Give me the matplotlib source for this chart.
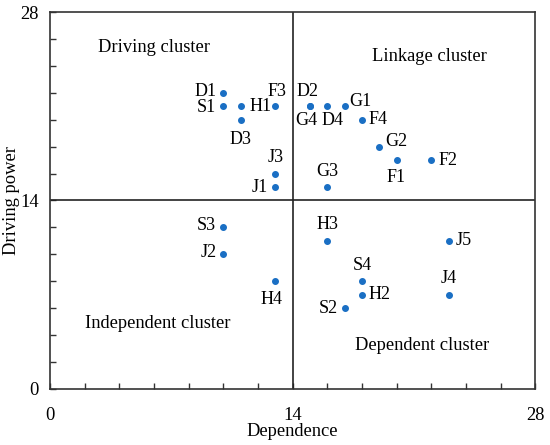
import matplotlib.pyplot as plt
from matplotlib.ticker import MultipleLocator

plt.rcParams['font.family'] = ['Liberation Serif', 'DejaVu Serif']

# factor names, dependence (x) and driving power (y)
names = ['D1', 'S1', 'H1', 'D3', 'F3', 'D2', 'G4', 'D4', 'G1', 'F4', 'G2', 'F1', 'F2',
         'J3', 'J1', 'G3', 'S3', 'J2', 'H4', 'H3', 'J5', 'S4', 'H2', 'J4', 'S2']
dependence = [10, 10, 11, 11, 13, 15, 15, 16, 17, 18, 19, 20, 22,
              13, 13, 16, 10, 10, 13, 16, 23, 18, 18, 23, 17]
driving = [22, 21, 21, 20, 21, 21, 21, 21, 21, 20, 18, 17, 17,
           16, 15, 15, 12, 10, 8, 11, 11, 8, 7, 7, 6]

# where each label sits relative to its dot (pixels)
L = (-7, 0, 'right', 'center')
R = (7, 0, 'left', 'center')
A = (0, 16, 'center', 'center')
B = (0, -17, 'center', 'center')
place = {'D1': (-7, 1, 'right', 'center'), 'S1': (-7, -1, 'right', 'center'),
         'H1': (9, 0, 'left', 'center'), 'D3': (0, -20, 'center', 'center'),
         'F3': (2, 15, 'center', 'center'), 'D2': (-2, 15, 'center', 'center'),
         'G4': (-4, -14, 'center', 'center'), 'D4': (5, -14, 'center', 'center'),
         'G1': (5, 5, 'left', 'center'), 'F4': R, 'G2': (6, 5, 'left', 'center'),
         'F1': B, 'F2': R, 'J3': A, 'J1': L, 'G3': A, 'S3': (-7, 2, 'right', 'center'),
         'J2': (-7, 2, 'right', 'center'), 'H4': (-4, -18, 'center', 'center'), 'H3': A,
         'J5': R, 'S4': A, 'H2': R, 'J4': A, 'S2': L}

quad_text = ['Driving cluster', 'Linkage cluster', 'Independent cluster', 'Dependent cluster']
quad_x = [6.0, 21.9, 6.2, 21.5]
quad_y = [25.4, 24.7, 4.85, 3.2]

fs = 13.3

fig = plt.figure(figsize=(5.5, 4.45), dpi=100)
ax = fig.add_axes([0.091, 0.126, 0.882, 0.847])

ax.plot(dependence, driving, 'o', color='#1a6fc4', markersize=4)
for n, x, y in zip(names, dependence, driving):
    dx, dy, ha, va = place[n]
    ax.annotate(n, (x, y), xytext=(dx, dy), textcoords='offset pixels',
                ha=ha, va=va, fontsize=13)

for t, x, y in zip(quad_text, quad_x, quad_y):
    ax.text(x, y, t, ha='center', va='center', fontsize=fs)

ax.axvline(14, color='#222222', lw=1.2)
ax.axhline(14, color='#222222', lw=1.2)

ax.set_xlim(0, 28)
ax.set_ylim(0, 28)
ax.set_xticks([0, 14, 28])
ax.set_yticks([0, 14, 28])
ax.xaxis.set_minor_locator(MultipleLocator(2))
ax.yaxis.set_minor_locator(MultipleLocator(2))
ax.tick_params(which='both', direction='in', length=4, width=1, colors='#333333',
               labelcolor='black', labelsize=fs)
ax.tick_params(axis='x', which='major', pad=13)
ax.tick_params(axis='y', which='major', pad=8)
for s in ax.spines.values():
    s.set_color('#333333')
    s.set_linewidth(1.2)

ax.set_xlabel('Dependence', fontsize=fs, labelpad=-1)
ax.set_ylabel('Driving power', fontsize=fs, labelpad=0)

fig.savefig('out.png', dpi=100)
